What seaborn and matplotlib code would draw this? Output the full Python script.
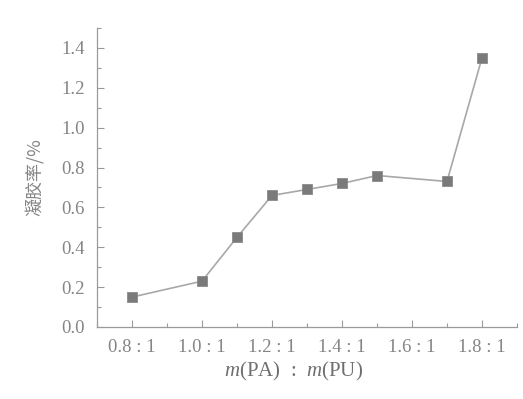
import pandas as pd
import numpy as np
import matplotlib.pyplot as plt
import seaborn as sns
from matplotlib.ticker import MultipleLocator

# Datos
ratio = [0.8, 1.0, 1.1, 1.2, 1.3, 1.4, 1.5, 1.7, 1.8]
gel_rate = [0.15, 0.23, 0.45, 0.66, 0.69, 0.72, 0.76, 0.73, 1.35]
xticks = [0.8, 1.0, 1.2, 1.4, 1.6, 1.8]
xtick_labels = ['0.8 : 1', '1.0 : 1', '1.2 : 1', '1.4 : 1', '1.6 : 1', '1.8 : 1']

df = pd.DataFrame({'ratio': ratio, 'gel': gel_rate})

sns.set_style('ticks')
plt.rcParams['font.family'] = ['Liberation Serif', 'Noto Sans CJK SC']
plt.rcParams['mathtext.fontset'] = 'custom'
plt.rcParams['mathtext.it'] = 'Liberation Serif:italic'
plt.rcParams['mathtext.rm'] = 'Liberation Serif'

gris_eje = '#9a9a9a'
gris_txt = '#858585'

fig = plt.figure(figsize=(5.23, 3.99), dpi=100)
ax = fig.add_axes([0.1855, 0.1805, 0.803, 0.7493])

sns.lineplot(data=df, x='ratio', y='gel', ax=ax, color='#a8a8a8', linewidth=1.2,
             marker='s', markersize=6.5, markerfacecolor='#7a7a7a',
             markeredgecolor='#8a8a8a', markeredgewidth=0.6)

ax.set_xlim(0.7, 1.9)
ax.set_ylim(0, 1.5)
ax.set_xticks(xticks)
ax.set_xticklabels(xtick_labels)
ax.set_yticks(np.arange(0, 1.41, 0.2))
ax.set_yticklabels([f'{v:.1f}' for v in np.arange(0, 1.41, 0.2)])
ax.xaxis.set_minor_locator(MultipleLocator(0.1))
ax.yaxis.set_minor_locator(MultipleLocator(0.1))

ax.tick_params(which='both', direction='in', color=gris_eje, labelcolor=gris_txt,
               width=0.8)
ax.tick_params(axis='both', labelsize=13.5)
ax.tick_params(which='major', length=5, pad=9)
ax.tick_params(which='minor', length=3)

sns.despine(ax=ax)
for s in ['left', 'bottom']:
    ax.spines[s].set_color(gris_eje)
    ax.spines[s].set_linewidth(0.9)

ax.set_xlabel(r'$m$(PA)  :  $m$(PU)', fontsize=15, color='#6f6f6f')
ax.xaxis.set_label_coords(0.467, -0.11)
ax.set_ylabel('凝胶率/%', fontsize=13, color=gris_txt, labelpad=12,
              family=['Noto Sans CJK SC', 'Liberation Serif'])

plt.savefig('out.png', dpi=100)
